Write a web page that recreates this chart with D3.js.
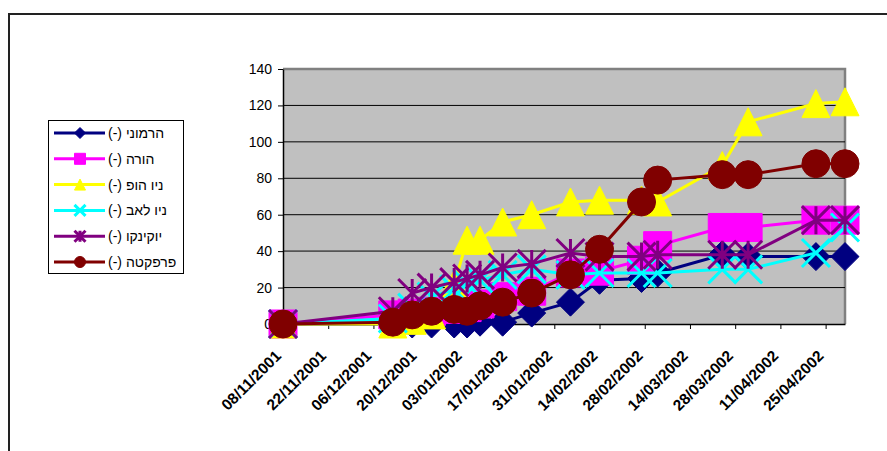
<!DOCTYPE html>
<html>
<head>
<meta charset="utf-8">
<script src="https://cdn.jsdelivr.net/npm/d3@7"></script>
<style>
  body { margin: 0; background: #fff; }
  svg { display: block; font-family: "Liberation Sans", Arial, sans-serif; }
</style>
</head>
<body>
<div id="chart"></div>
<script>
// measurement dates (dd/mm/yyyy)
const dates = ["08/11/2001", "12/12/2001", "18/12/2001", "24/12/2001", "31/12/2001",
  "04/01/2002", "08/01/2002", "15/01/2002", "24/01/2002", "05/02/2002", "14/02/2002",
  "27/02/2002", "04/03/2002", "24/03/2002", "01/04/2002", "22/04/2002", "01/05/2002"];

// x axis labels, every 14 days
const tickLabels = ["08/11/2001", "22/11/2001", "06/12/2001", "20/12/2001", "03/01/2002",
  "17/01/2002", "31/01/2002", "14/02/2002", "28/02/2002", "14/03/2002", "28/03/2002",
  "11/04/2002", "25/04/2002"];
const yTicks = [0, 20, 40, 60, 80, 100, 120, 140];

const seriesNames = ["הרמוני (-)", "הורה (-)", "ניו הופ (-)", "ניו לאב (-)", "יוקינקו (-)", "פרפקטה (-)"];
const seriesColors = ["#000080", "#FF00FF", "#FFFF00", "#00FFFF", "#800080", "#800000"];
const seriesMarkers = ["diamond", "square", "triangle", "x", "star", "circle"];

const harmony  = [0, 0, 0, 0, 0, 0, 1, 1, 6, 12, 24, 25, 28, 38, 37, 37, 37];
const hora     = [0, 5, 6, 7, 8, 9, 11, 15, 18, 28, 29, 35, 43, 53, 53, 57, 57];
const newHope  = [0, 0, 2, 5, 22, 46, 46, 56, 60, 67, 68, 68, 67, 87, 111, 121, 122];
const newLove  = [0, 3, 9, 15, 19, 22, 24, 27, 30, 27, 28, 28, 28, 30, 30, 39, 53];
const yukinko  = [0, 7, 17, 20, 23, 25, 27, 31, 33, 39, 37, 37, 38, 38, 38, 57, 57];
const perfecta = [0, 1, 5, 7, 8, 7, 10, 12, 17, 27, 41, 67, 79, 82, 82, 88, 88];

const seriesValues = [harmony, hora, newHope, newLove, yukinko, perfecta];

const W = 887, H = 451;
const plot = { left: 283, right: 845, top: 69, bottom: 324 };
const parse = d3.utcParse("%d/%m/%Y");

const svg = d3.select("#chart").append("svg")
    .attr("width", W)
    .attr("height", H);

svg.append("rect").attr("width", W).attr("height", H).attr("fill", "#fff");

// outer chart frame (only top and left edges are inside the picture)
svg.append("path")
    .attr("d", `M9,${H} V14 H${W}`)
    .attr("fill", "none")
    .attr("stroke", "#222")
    .attr("stroke-width", 2);

const x = d3.scaleUtc()
    .domain([parse(dates[0]), parse(dates[dates.length - 1])])
    .range([plot.left, plot.right]);

const y = d3.scaleLinear()
    .domain([0, 140])
    .range([plot.bottom, plot.top]);

// plot area
svg.append("rect")
    .attr("x", plot.left)
    .attr("y", plot.top)
    .attr("width", plot.right - plot.left)
    .attr("height", plot.bottom - plot.top)
    .attr("fill", "#C0C0C0");

svg.append("path")
    .attr("d", `M${plot.left},${plot.top} H${plot.right} V${plot.bottom}`)
    .attr("fill", "none")
    .attr("stroke", "#808080")
    .attr("stroke-width", 2.5);

// gridlines
svg.append("g")
  .selectAll("line")
  .data(yTicks.filter(d => d > 0 && d < 140))
  .join("line")
    .attr("x1", plot.left)
    .attr("x2", plot.right)
    .attr("y1", d => y(d))
    .attr("y2", d => y(d))
    .attr("stroke", d => d === 40 ? "#555" : "#000")
    .attr("stroke-width", d => d === 40 ? 1.8 : 1);

// y axis
svg.append("g")
    .attr("transform", `translate(${plot.left},0)`)
    .call(d3.axisLeft(y).tickValues(yTicks).tickSize(5).tickPadding(6).tickSizeOuter(0))
    .call(g => g.select(".domain").attr("stroke", "#000").attr("stroke-width", 1.5))
    .call(g => g.selectAll("text")
      .attr("font-size", 14)
      .attr("font-family", "'Liberation Sans', Arial, sans-serif")
      .attr("fill", "#000"));

// x axis
const tickDates = tickLabels.map(parse);
svg.append("g")
    .attr("transform", `translate(0,${plot.bottom})`)
    .call(d3.axisBottom(x).tickValues(tickDates).tickSize(5).tickSizeOuter(0).tickFormat(""))
    .call(g => g.select(".domain").attr("stroke", "#000").attr("stroke-width", 1.5));

svg.append("g")
  .selectAll("text")
  .data(tickLabels)
  .join("text")
    .attr("transform", d => `translate(${x(parse(d)) - 1},357) rotate(-45)`)
    .attr("text-anchor", "end")
    .attr("font-size", 15.5)
    .attr("font-weight", "bold")
    .text(d => d);

// marker shapes around (0,0), r = half size
function markerPath(type, r) {
  switch (type) {
    case "diamond": return `M0,${-r} L${r},0 L0,${r} L${-r},0 Z`;
    case "square": return `M${-r},${-r} H${r} V${r} H${-r} Z`;
    case "triangle": return `M0,${-r} L${r},${r} L${-r},${r} Z`;
    case "x": return `M${-r},${-r} L${r},${r} M${r},${-r} L${-r},${r}`;
    case "star": return `M${-r},${-r} L${r},${r} M${r},${-r} L${-r},${r} M0,${-r} V${r}`;
    default: return d3.arc()({ innerRadius: 0, outerRadius: r, startAngle: 0, endAngle: 2 * Math.PI });
  }
}

function drawMarker(g, type, color, r) {
  const open = type === "x" || type === "star";
  g.append("path")
      .attr("d", markerPath(type, r))
      .attr("fill", open ? "none" : color)
      .attr("stroke", color)
      .attr("stroke-width", open ? 3 : 1);
}

const line = d3.line()
    .x(d => x(d.date))
    .y(d => y(d.value));

seriesValues.forEach((vals, i) => {
  const pts = vals.map((v, j) => ({ date: parse(dates[j]), value: v }));
  const g = svg.append("g");
  g.append("path")
      .datum(pts)
      .attr("d", line)
      .attr("fill", "none")
      .attr("stroke", seriesColors[i])
      .attr("stroke-width", 3);
  g.selectAll("g.m")
    .data(pts)
    .join("g")
      .attr("class", "m")
      .attr("transform", d => `translate(${x(d.date)},${y(d.value)})`)
      .each(function () { drawMarker(d3.select(this), seriesMarkers[i], seriesColors[i], 14); });
});

// legend
const legend = svg.append("g");
legend.append("rect")
    .attr("x", 48.5)
    .attr("y", 120.5)
    .attr("width", 135)
    .attr("height", 153)
    .attr("fill", "#fff")
    .attr("stroke", "#000")
    .attr("stroke-width", 1);

const legendY = d3.scalePoint()
    .domain(seriesNames)
    .range([133, 262]);

seriesNames.forEach((name, i) => {
  const ly = legendY(name);
  legend.append("line")
      .attr("x1", 54).attr("x2", 105)
      .attr("y1", ly).attr("y2", ly)
      .attr("stroke", seriesColors[i])
      .attr("stroke-width", 3);
  const mg = legend.append("g").attr("transform", `translate(80,${ly})`);
  drawMarker(mg, seriesMarkers[i], seriesColors[i], 5.5);
  legend.append("text")
      .attr("x", 108)
      .attr("y", ly + 5)
      .attr("direction", "rtl")
      .attr("text-anchor", "end")
      .attr("font-size", 14)
      .text(name);
});
</script>
</body>
</html>
